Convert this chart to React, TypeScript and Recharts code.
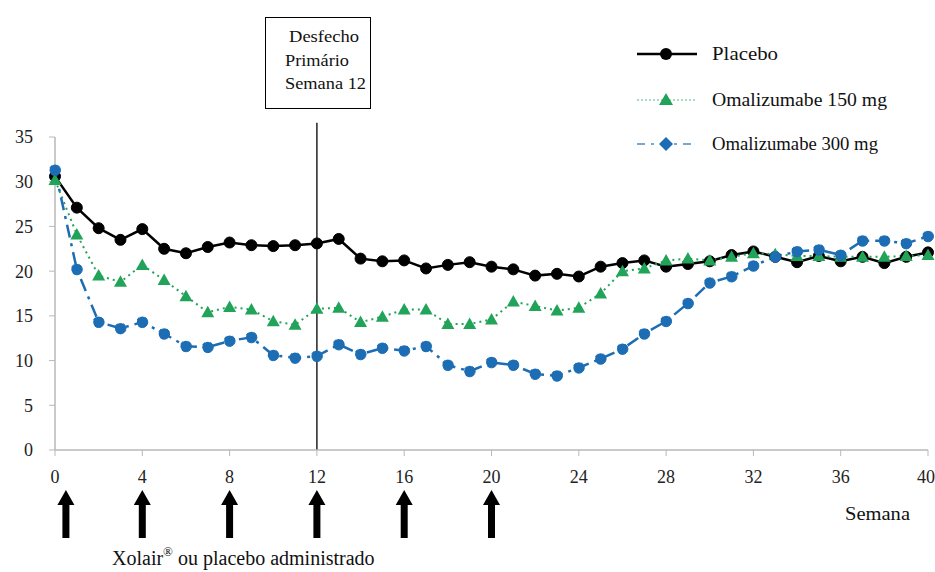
import React from 'react';
import { LineChart, Line, XAxis, YAxis, ReferenceLine, ReferenceDot } from 'recharts';

// Semana 0..40
const weeks = [0, 1, 2, 3, 4, 5, 6, 7, 8, 9, 10, 11, 12, 13, 14, 15, 16, 17, 18, 19, 20, 21, 22, 23, 24, 25, 26, 27, 28, 29, 30, 31, 32, 33, 34, 35, 36, 37, 38, 39, 40];

const placebo = [30.6, 27.1, 24.8, 23.5, 24.7, 22.5, 22.0, 22.7, 23.2, 22.9, 22.8, 22.9, 23.1, 23.6, 21.4, 21.1, 21.2, 20.3, 20.7, 21.0, 20.5, 20.2, 19.5, 19.7, 19.4, 20.5, 20.9, 21.2, 20.5, 20.8, 21.1, 21.8, 22.2, 21.6, 21.0, 21.7, 21.1, 21.6, 20.9, 21.6, 22.1];
const omali150 = [30.2, 24.1, 19.5, 18.8, 20.7, 19.0, 17.2, 15.4, 16.0, 15.7, 14.4, 14.0, 15.8, 15.9, 14.3, 14.9, 15.7, 15.7, 14.1, 14.1, 14.6, 16.6, 16.1, 15.6, 15.9, 17.5, 20.0, 20.3, 21.2, 21.4, 21.2, 21.6, 22.0, 21.9, 21.7, 21.7, 21.6, 21.6, 21.6, 21.7, 21.8];
const omali300 = [31.3, 20.2, 14.3, 13.6, 14.3, 13.0, 11.6, 11.5, 12.2, 12.6, 10.6, 10.3, 10.5, 11.8, 10.7, 11.4, 11.1, 11.6, 9.5, 8.8, 9.8, 9.5, 8.5, 8.3, 9.2, 10.2, 11.3, 13.0, 14.4, 16.4, 18.7, 19.4, 20.6, 21.6, 22.2, 22.4, 21.8, 23.4, 23.4, 23.1, 23.9];

const xTicks = [0, 4, 8, 12, 16, 20, 24, 28, 32, 36, 40];
const yTicks = [0, 5, 10, 15, 20, 25, 30, 35];
const doseWeeks = [0.5, 4, 8, 12, 16, 20];
const primaryWeek = 12;

const data = weeks.map((w, i) => ({
  week: w,
  placebo: placebo[i],
  omali150: omali150[i],
  omali300: omali300[i],
}));

const FONT = '"Liberation Serif", "Times New Roman", serif';
const GREEN = '#22a35a';
const BLUE = '#1c6db4';
const AXIS = '#b8b8b8';

const TICK = { fontFamily: FONT, fontSize: 18, fill: '#222' };

const Triangle = (props: any) => {
  const { cx, cy } = props;
  if (cx == null || cy == null) return null;
  return <path d={`M${cx},${cy - 6.5} L${cx + 6.5},${cy + 5} L${cx - 6.5},${cy + 5} Z`} fill={GREEN} />;
};

const Arrow = (props: any) => {
  const { cx, cy } = props;
  if (cx == null || cy == null) return null;
  const top = cy + 40;
  const bottom = cy + 88;
  return (
    <path
      d={`M${cx},${top} L${cx + 8.5},${top + 15} L${cx + 3.5},${top + 15} L${cx + 3.5},${bottom} L${cx - 3.5},${bottom} L${cx - 3.5},${top + 15} L${cx - 8.5},${top + 15} Z`}
      fill="#000"
    />
  );
};

function Annotations() {
  return (
    <svg
      width={935}
      height={572}
      style={{ position: 'absolute', left: 0, top: 0, pointerEvents: 'none' }}
      fontFamily={FONT}
      fill="#111"
    >
      {/* caixa do desfecho primário */}
      <rect x={265.5} y={17.5} width={105} height={91} fill="#fff" stroke="#000" strokeWidth={1} />
      <text x={289} y={42} fontSize={17} textLength={70} lengthAdjust="spacingAndGlyphs">Desfecho</text>
      <text x={285} y={66} fontSize={17} textLength={64} lengthAdjust="spacingAndGlyphs">Primário</text>
      <text x={285} y={89} fontSize={17} textLength={81} lengthAdjust="spacingAndGlyphs">Semana 12</text>

      {/* legenda */}
      <line x1={637} x2={697} y1={54} y2={54} stroke="#000" strokeWidth={2.5} />
      <circle cx={666} cy={54} r={6} fill="#000" />
      <text x={712} y={60} fontSize={18} textLength={66} lengthAdjust="spacingAndGlyphs">Placebo</text>

      <line x1={637} x2={697} y1={100} y2={100} stroke={GREEN} strokeWidth={1.5} strokeDasharray="2 2" opacity={0.5} />
      <path d="M666,93 L673,105 L659,105 Z" fill={GREEN} />
      <text x={712} y={106} fontSize={18} textLength={175} lengthAdjust="spacingAndGlyphs">Omalizumabe 150 mg</text>

      <line x1={637} x2={697} y1={144} y2={144} stroke={BLUE} strokeWidth={2} strokeDasharray="8 6 3 6" opacity={0.6} />
      <path d="M666,137 L673,144 L666,151 L659,144 Z" fill={BLUE} />
      <text x={712} y={150} fontSize={18} textLength={166} lengthAdjust="spacingAndGlyphs">Omalizumabe 300 mg</text>

      <text x={845} y={520} fontSize={18} textLength={65} lengthAdjust="spacingAndGlyphs">Semana</text>
      <text x={112} y={565} fontSize={20}>
        Xolair<tspan fontSize={13} dy={-9}>®</tspan>
        <tspan dy={9}> ou placebo administrado</tspan>
      </text>
    </svg>
  );
}

export default function App() {
  return (
    <div style={{ position: 'absolute', left: 0, top: 0, width: 935, height: 572, background: '#fff' }}>
      <LineChart width={935} height={572} data={data} margin={{ top: 137, right: 7, left: 15, bottom: 92 }}>
        <XAxis
          dataKey="week"
          type="number"
          domain={[0, 40]}
          ticks={xTicks}
          tick={TICK}
          tickSize={6}
          tickMargin={14}
          height={30}
          axisLine={{ stroke: AXIS, strokeWidth: 1.5 }}
          tickLine={{ stroke: AXIS }}
        />
        <YAxis
          domain={[0, 35]}
          ticks={yTicks}
          tick={TICK}
          tickSize={6}
          tickMargin={16}
          width={40}
          axisLine={{ stroke: AXIS, strokeWidth: 1.5 }}
          tickLine={{ stroke: AXIS }}
        />
        <ReferenceLine
          segment={[
            { x: primaryWeek, y: 0 },
            { x: primaryWeek, y: 36.6 },
          ]}
          ifOverflow="visible"
          stroke="#222"
          strokeWidth={1.5}
        />
        <Line
          dataKey="placebo"
          type="linear"
          stroke="#000"
          strokeWidth={2.5}
          dot={{ r: 5.5, fill: '#000', stroke: '#000', strokeWidth: 1 }}
          isAnimationActive={false}
        />
        <Line
          dataKey="omali150"
          type="linear"
          stroke={GREEN}
          strokeWidth={2}
          strokeDasharray="2 4"
          dot={<Triangle />}
          isAnimationActive={false}
        />
        <Line
          dataKey="omali300"
          type="linear"
          stroke={BLUE}
          strokeWidth={2.5}
          strokeDasharray="13 6 3 6"
          dot={{ r: 5.5, fill: BLUE, stroke: BLUE, strokeWidth: 1 }}
          isAnimationActive={false}
        />
        {doseWeeks.map((w) => (
          <ReferenceDot key={w} x={w} y={0} r={0} shape={<Arrow />} ifOverflow="visible" />
        ))}
      </LineChart>
      <Annotations />
    </div>
  );
}
